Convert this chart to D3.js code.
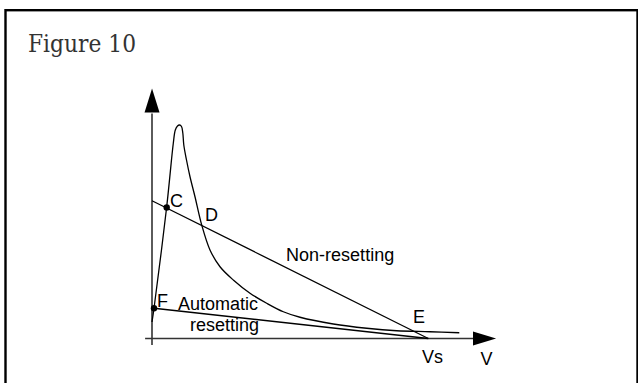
<!DOCTYPE html>
<html>
<head>
<meta charset="utf-8">
<script src="https://cdn.jsdelivr.net/npm/d3@7"></script>
<style>
  html, body { margin: 0; padding: 0; background: #fff; }
  svg { display: block; }
  .lbl { font-family: 'Liberation Sans', Arial, sans-serif; font-size: 18px; fill: #000; }
</style>
</head>
<body>
<div id="chart"></div>
<script>
// characteristic curve (V, I)
var curveV = [0, 0.67, 4.9, 7.1, 7.77, 8.5, 9.17, 9.83, 10.27, 10.6, 11.5, 12.67, 14.33, 16.57, 19.33, 22.67, 27.1, 32.67, 38.23, 43.77, 49.33, 60.43, 71.57, 81.57, 92.67, 102.43];
var curveI = [6.6, 12.1, 52.7, 78.1, 83.4, 85.0, 85.4, 84.8, 82.2, 77.4, 71.4, 64.7, 56.7, 45.4, 35.4, 28.7, 23.4, 18.1, 14.1, 10.7, 8.5, 5.8, 4.1, 3.1, 2.7, 2.3];

// load lines
var nonResetV = [0, 92.1];
var nonResetI = [55.1, 0];
var autoResetV = [0.67, 92.1];
var autoResetI = [12.1, 0];

// marked points
var dotNames = ['C', 'F'];
var dotV = [4.9, 0.67];
var dotI = [52.4, 12.1];

// labels
var labelText = ['C', 'D', 'F', 'Automatic', 'resetting', 'Non-resetting', 'E'];
var labelV = [6.0, 17.67, 1.67, 8.67, 12.67, 44.7, 87.0];
var labelI = [52.6, 47.0, 12.6, 11.4, 3.0, 31.0, 6.2];
var axisText = ['Vs', 'V'];
var axisTextV = [93.5, 111.5];

var width = 638, height = 383;

var svg = d3.select('#chart').append('svg')
    .attr('width', width).attr('height', height);

// frame
svg.append('rect')
    .attr('x', 5.5).attr('y', 10.2)
    .attr('width', 632).attr('height', 400)
    .attr('fill', 'none').attr('stroke', '#000').attr('stroke-width', 2.4);

svg.append('text')
    .attr('x', 28).attr('y', 52.3)
    .attr('textLength', 108).attr('lengthAdjust', 'spacingAndGlyphs')
    .style('font-family', "'DejaVu Serif', serif")
    .style('font-size', '24px')
    .style('fill', '#333')
    .text('Figure 10');

var x = d3.scaleLinear().domain([0, 115]).range([152, 497]);
var y = d3.scaleLinear().domain([0, 100]).range([338.5, 88.5]);

// axes
var axes = svg.append('g');
axes.append('line')
    .attr('x1', x(0)).attr('x2', x(0))
    .attr('y1', y(-2.6)).attr('y2', y(90))
    .attr('stroke', '#333').attr('stroke-width', 1.6);
axes.append('line')
    .attr('x1', x(-2.3)).attr('x2', x(107))
    .attr('y1', y(0)).attr('y2', y(0))
    .attr('stroke', '#333').attr('stroke-width', 1.6);
axes.append('path')
    .attr('d', `M${x(0)},${y(100)} L${x(0) - 7.5},${y(90.4)} L${x(0) + 7.5},${y(90.4)} Z`)
    .attr('fill', '#000');
axes.append('path')
    .attr('d', `M${x(114.7)},${y(0)} L${x(107)},${y(0) - 7} L${x(107)},${y(0) + 7} Z`)
    .attr('fill', '#000');

var line = d3.line().x(d => x(d[0])).y(d => y(d[1])).curve(d3.curveCatmullRom.alpha(0.5));

svg.append('path')
    .datum(curveV.map((v, i) => [v, curveI[i]]))
    .attr('d', line)
    .attr('fill', 'none').attr('stroke', '#000').attr('stroke-width', 1.3);

var straight = d3.line().x(d => x(d[0])).y(d => y(d[1]));
[[nonResetV, nonResetI], [autoResetV, autoResetI]].forEach(function (s) {
    svg.append('path')
        .datum(s[0].map((v, i) => [v, s[1][i]]))
        .attr('d', straight)
        .attr('fill', 'none').attr('stroke', '#000').attr('stroke-width', 1.3);
});

svg.selectAll('.dot').data(dotNames).enter().append('circle')
    .attr('class', 'dot')
    .attr('cx', (d, i) => x(dotV[i]))
    .attr('cy', (d, i) => y(dotI[i]))
    .attr('r', 3.2).attr('fill', '#000');

svg.selectAll('.pl').data(labelText).enter().append('text')
    .attr('class', 'lbl pl')
    .attr('x', (d, i) => x(labelV[i]))
    .attr('y', (d, i) => y(labelI[i]))
    .text(d => d);

svg.selectAll('.al').data(axisText).enter().append('text')
    .attr('class', 'lbl al')
    .attr('text-anchor', 'middle')
    .attr('x', (d, i) => x(axisTextV[i]))
    .attr('y', (d, i) => i == 0 ? 363 : 365)
    .text(d => d);
</script>
</body>
</html>
